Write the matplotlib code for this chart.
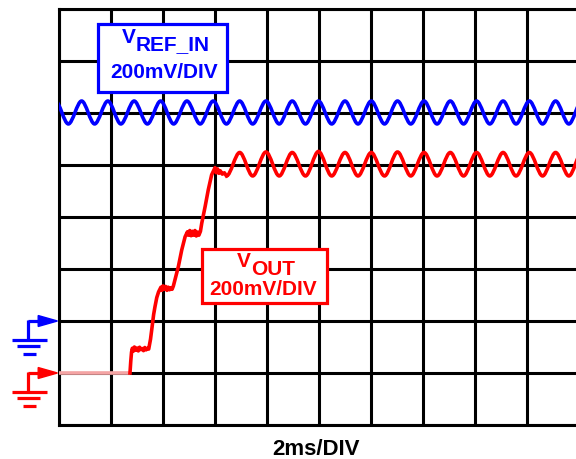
import matplotlib.pyplot as plt
from matplotlib.path import Path
from matplotlib.patches import PathPatch, Rectangle, Polygon

plt.rcParams['font.family'] = ['Liberation Sans', 'DejaVu Sans']

# scope settings: 2 ms/div horizontally, 200 mV/div vertically, 10 x 8 divisions
MS_PER_DIV = 2.0
MV_PER_DIV = 200.0
N_XDIV = 10
N_YDIV = 8
BLUE_GND = 2   # ground marker position (divisions from bottom)
RED_GND = 1

# times (ms) of ripple peaks / troughs
ripple_t = [-0.14, 0.36, 0.87, 1.37, 1.88, 2.38, 2.89, 3.40, 3.91, 4.41,
            4.92, 5.43, 5.93, 6.44, 6.95, 7.45, 7.96, 8.47, 8.97, 9.48,
            9.98, 10.49, 11.00, 11.50, 12.01, 12.52, 13.02, 13.53, 14.04, 14.54,
            15.05, 15.56, 16.06, 16.57, 17.08, 17.58, 18.09, 18.60, 19.10, 19.61,
            20.11, 20.62]
vref_ripple_mv = [846, 758, 846, 758, 846, 758, 846, 758, 846, 758,
                  846, 758, 846, 758, 846, 758, 846, 758, 846, 758,
                  846, 758, 846, 758, 846, 758, 846, 758, 846, 758,
                  846, 758, 846, 758, 846, 758, 846, 758, 846, 758,
                  846, 758]
# VOUT ripple starts at the trough right after soft-start finishes
vout_ripple_t = ripple_t[13:]
vout_ripple_mv = [758, 848, 758, 850, 758, 848, 758, 852, 758, 848,
                  758, 848, 758, 850, 758, 848, 758, 848, 758, 848,
                  758, 848, 758, 848, 758, 848, 758, 848, 758]

# VOUT soft-start staircase (ms, mV)
vout_t = [0.00, 2.73,
          2.76, 2.79, 2.82, 2.86, 2.90, 2.95, 3.00, 3.05, 3.10, 3.15, 3.20, 3.25,
          3.30, 3.35, 3.40, 3.45,
          3.52, 3.58, 3.64, 3.69, 3.76, 3.83, 3.88,
          3.92, 3.96, 4.00, 4.05, 4.10, 4.15, 4.20, 4.25, 4.30, 4.35, 4.40,
          4.59, 4.72, 4.85, 4.94,
          4.98, 5.03, 5.08, 5.13, 5.18, 5.23, 5.28, 5.33, 5.38, 5.44,
          5.49, 5.62, 5.74, 5.87, 5.96,
          6.00, 6.05, 6.10, 6.15, 6.20, 6.28, 6.36, 6.44]
vout_mv = [0, 0,
           45, 80, 95, 84, 100, 88, 96, 85, 99, 90, 94, 86,
           98, 89, 95, 92,
           130, 177, 225, 254, 290, 312, 322,
           330, 318, 335, 322, 333, 318, 330, 320, 328, 322, 335,
           409, 473, 524, 543,
           530, 548, 528, 545, 530, 548, 527, 542, 530, 545,
           576, 640, 704, 762, 781,
           790, 770, 785, 768, 778, 765, 770, 758]


def to_div(t, mv, gnd):
    return [ti / MS_PER_DIV for ti in t], [m / MV_PER_DIV + gnd for m in mv]


def smooth_path(x, y):
    # cubic segments with flat tangents at each peak / trough
    verts = [(x[0], y[0])]
    codes = [Path.MOVETO]
    for i in range(len(x) - 1):
        d = x[i + 1] - x[i]
        verts += [(x[i] + d / 3, y[i]), (x[i + 1] - d / 3, y[i + 1]), (x[i + 1], y[i + 1])]
        codes += [Path.CURVE4] * 3
    return Path(verts, codes)


def ground_marker(ax, level, color):
    kw = dict(color=color, lw=2.3, clip_on=False, solid_capstyle='butt')
    ax.add_patch(Polygon([(-0.03, level), (-0.40, level + 0.105), (-0.40, level - 0.105)],
                         closed=True, color=color, clip_on=False, zorder=5))
    ax.plot([-0.60, -0.40], [level, level], **kw)
    ax.plot([-0.60, -0.60], [level + 0.02, level - 0.36], **kw)
    ax.plot([-0.90, -0.24], [level - 0.36, level - 0.36], **kw)
    ax.plot([-0.80, -0.37], [level - 0.49, level - 0.49], **kw)
    ax.plot([-0.70, -0.45], [level - 0.63, level - 0.63], **kw)


def label_box(ax, x0, y0, x1, y1, color):
    ax.add_patch(Rectangle((x0, y0), x1 - x0, y1 - y0, facecolor='white',
                           edgecolor=color, lw=2.3, zorder=6))


fig = plt.figure(figsize=(5.76, 4.59), dpi=100)
ax = fig.add_axes([59 / 576, 34 / 459, 520 / 576, 416 / 459])
ax.set_xlim(0, N_XDIV)
ax.set_ylim(0, N_YDIV)
ax.set_xticks(range(N_XDIV + 1))
ax.set_yticks(range(N_YDIV + 1))
ax.tick_params(length=0, labelbottom=False, labelleft=False)
ax.grid(True, color='black', lw=2.2)
for s in ax.spines.values():
    s.set_linewidth(2.2)

# VREF_IN trace
bx, by = to_div(ripple_t, vref_ripple_mv, BLUE_GND)
ax.add_patch(PathPatch(smooth_path(bx, by), fill=False, edgecolor='#0000ff', lw=2.6, zorder=3))

# VOUT trace
rx, ry = to_div(vout_t, vout_mv, RED_GND)
ax.plot(rx[:2], ry[:2], color='#f4a4a4', lw=2.6, zorder=3, solid_capstyle='butt')
ax.plot(rx[1:], ry[1:], color='#ff0000', lw=2.6, zorder=3, solid_joinstyle='round')
rrx, rry = to_div(vout_ripple_t, vout_ripple_mv, RED_GND)
ax.add_patch(PathPatch(smooth_path(rrx, rry), fill=False, edgecolor='#ff0000', lw=2.6, zorder=3))

# ground markers
ground_marker(ax, BLUE_GND, '#0000ff')
ground_marker(ax, RED_GND, '#ff0000')

# labels
label_box(ax, 0.75, 6.40, 3.23, 7.71, '#0000ff')
ax.text(1.21, 7.35, 'V', color='#0000ff', fontsize=15, fontweight='bold', zorder=7)
ax.text(1.48, 7.21, 'REF_IN', color='#0000ff', fontsize=15, fontweight='bold', zorder=7)
ax.text(2.03, 6.67, '200mV/DIV', color='#0000ff', fontsize=15, fontweight='bold',
        ha='center', zorder=7)

label_box(ax, 2.75, 2.35, 5.15, 3.385, '#ff0000')
ax.text(3.42, 3.04, 'V', color='#ff0000', fontsize=15, fontweight='bold', zorder=7)
ax.text(3.69, 2.88, 'OUT', color='#ff0000', fontsize=15, fontweight='bold', zorder=7)
ax.text(3.93, 2.50, '200mV/DIV', color='#ff0000', fontsize=15, fontweight='bold',
        ha='center', zorder=7)

ax.text(4.95, -0.57, '2ms/DIV', color='black', fontsize=16, fontweight='bold',
        ha='center', clip_on=False)

fig.savefig('out.png', dpi=100)
plt.close(fig)
